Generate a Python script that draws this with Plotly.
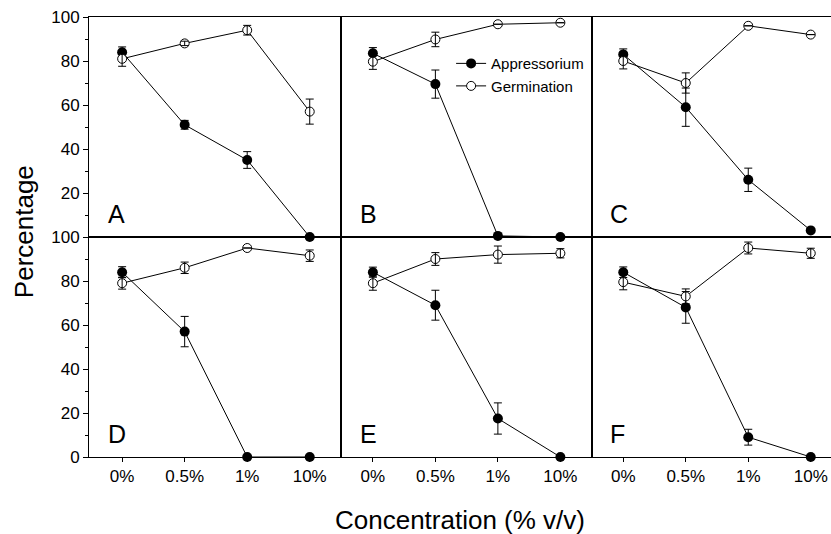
import plotly.graph_objects as go

categories = ["0%", "0.5%", "1%", "10%"]
panels = ["A", "B", "C", "D", "E", "F"]

app_A = [84, 51, 35, 0]
app_A_err = [2.4, 2.0, 3.8, 0]
germ_A = [81, 88, 94, 57]
germ_A_err = [3.4, 1.0, 2.2, 5.7]

app_B = [83.5, 69.5, 0.5, 0]
app_B_err = [2.6, 6.4, 0, 0]
germ_B = [79.7, 89.8, 96.7, 97.4]
germ_B_err = [3.5, 3.3, 0, 0]

app_C = [83, 59, 26, 3]
app_C_err = [2.5, 8.7, 5.3, 0]
germ_C = [80, 70, 96, 92]
germ_C_err = [3.6, 4.6, 0, 0]

app_D = [84, 57, 0, 0]
app_D_err = [2.5, 6.9, 0, 0]
germ_D = [79, 86, 95, 91.5]
germ_D_err = [2.7, 2.6, 0, 2.6]

app_E = [84, 69, 17.5, 0]
app_E_err = [2.3, 6.8, 7.1, 0]
germ_E = [79, 90, 92, 92.6]
germ_E_err = [3.2, 2.9, 3.9, 2.1]

app_F = [84, 68, 9, 0]
app_F_err = [2.4, 7.2, 3.6, 0]
germ_F = [79.5, 73, 95, 92.6]
germ_F_err = [3.5, 3.4, 2.7, 2.3]

app = [app_A, app_B, app_C, app_D, app_E, app_F]
app_err = [app_A_err, app_B_err, app_C_err, app_D_err, app_E_err, app_F_err]
germ = [germ_A, germ_B, germ_C, germ_D, germ_E, germ_F]
germ_err = [germ_A_err, germ_B_err, germ_C_err, germ_D_err, germ_E_err, germ_F_err]

FONT = "Liberation Sans, Arial, Helvetica, sans-serif"
xs = list(range(len(categories)))


def clean(errs):
    return [e if e > 0 else None for e in errs]


fig = go.Figure()

for i in range(6):
    ax = "" if i == 0 else str(i + 1)
    xa, ya = "x" + ax, "y" + ax
    first = i == 0
    fig.add_trace(go.Scatter(
        x=xs, y=app[i], xaxis=xa, yaxis=ya, mode="lines+markers",
        name="Appressorium", showlegend=first,
        line=dict(color="black", width=1),
        marker=dict(symbol="circle", size=10, color="black"),
        error_y=dict(type="data", array=clean(app_err[i]), visible=True,
                     color="black", thickness=1, width=4),
        cliponaxis=False,
    ))
    fig.add_trace(go.Scatter(
        x=xs, y=germ[i], xaxis=xa, yaxis=ya, mode="lines+markers",
        name="Germination", showlegend=first,
        line=dict(color="black", width=1),
        marker=dict(symbol="circle", size=9, color="white",
                    line=dict(color="black", width=1)),
        cliponaxis=False,
    ))
    fig.add_trace(go.Scatter(
        x=xs, y=germ[i], xaxis=xa, yaxis=ya, mode="markers",
        showlegend=False, hoverinfo="skip",
        marker=dict(size=1, color="rgba(0,0,0,0)"),
        error_y=dict(type="data", array=clean(germ_err[i]), visible=True,
                     color="black", thickness=1, width=4),
        cliponaxis=False,
    ))

W = 742.0
xdomains = [[0, 252 / W], [252 / W, 503 / W], [503 / W, 1.0]]
xranges = [[-0.53, 3.50], [-0.51, 3.506], [-0.50, 3.324]]
ydomains = [[0.5, 1.0], [0.0, 0.5]]

layout = dict(
    width=831, height=534,
    margin=dict(l=89, r=0, t=17, b=77),
    paper_bgcolor="white", plot_bgcolor="white",
    font=dict(family=FONT, size=17, color="black"),
    showlegend=True,
    legend=dict(x=0.488, y=0.9315, xanchor="left", yanchor="top",
                bgcolor="rgba(0,0,0,0)", font=dict(size=15, family=FONT),
                tracegroupgap=0),
)

for i in range(6):
    row, col = divmod(i, 3)
    ax = "" if i == 0 else str(i + 1)
    xkey, ykey = "xaxis" + ax, "yaxis" + ax
    xa = dict(
        domain=xdomains[col], range=xranges[col], anchor="y" + ax,
        showgrid=False, zeroline=False, showline=True, mirror=True,
        linecolor="black", linewidth=1,
        tickmode="array", tickvals=xs, ticktext=categories,
    )
    if row == 1:
        xa.update(ticks="outside", ticklen=4, tickcolor="black",
                  showticklabels=True, tickfont=dict(size=17, family=FONT))
    else:
        xa.update(ticks="", showticklabels=False)
    ya = dict(
        domain=ydomains[row], range=[0, 100], anchor="x" + ax,
        showgrid=False, zeroline=False, showline=True,
        mirror=(col != 2), linecolor="black", linewidth=1,
    )
    if col == 0:
        tv = [20, 40, 60, 80, 100] if row == 0 else [0, 20, 40, 60, 80, 100]
        ya.update(tickmode="array", tickvals=tv, ticks="outside", ticklen=5,
                  tickcolor="black", showticklabels=True,
                  tickfont=dict(size=17, family=FONT),
                  minor=dict(tickmode="array", tickvals=[10, 30, 50, 70, 90],
                             ticks="outside", ticklen=3, tickcolor="black"))
    else:
        ya.update(ticks="", showticklabels=False)
    layout[xkey] = xa
    layout[ykey] = ya

fig.update_layout(**layout)

annotations = []
for i, letter in enumerate(panels):
    ax = "" if i == 0 else str(i + 1)
    annotations.append(dict(
        text=letter, xref="x" + ax + " domain", yref="y" + ax + " domain",
        x=0.068, y=0.03, xanchor="left", yanchor="bottom", showarrow=False,
        font=dict(size=25, family=FONT, color="black"),
    ))
annotations.append(dict(
    text="Concentration (% v/v)", xref="paper", yref="paper",
    x=0.5, y=-0.143, xanchor="center", yanchor="middle", showarrow=False,
    font=dict(size=26, family=FONT, color="black"),
))
annotations.append(dict(
    text="Percentage", xref="paper", yref="paper", textangle=-90,
    x=-0.0876, y=0.511, xanchor="center", yanchor="middle", showarrow=False,
    font=dict(size=26, family=FONT, color="black"),
))
fig.update_layout(annotations=annotations)

fig.write_html("out.html")
